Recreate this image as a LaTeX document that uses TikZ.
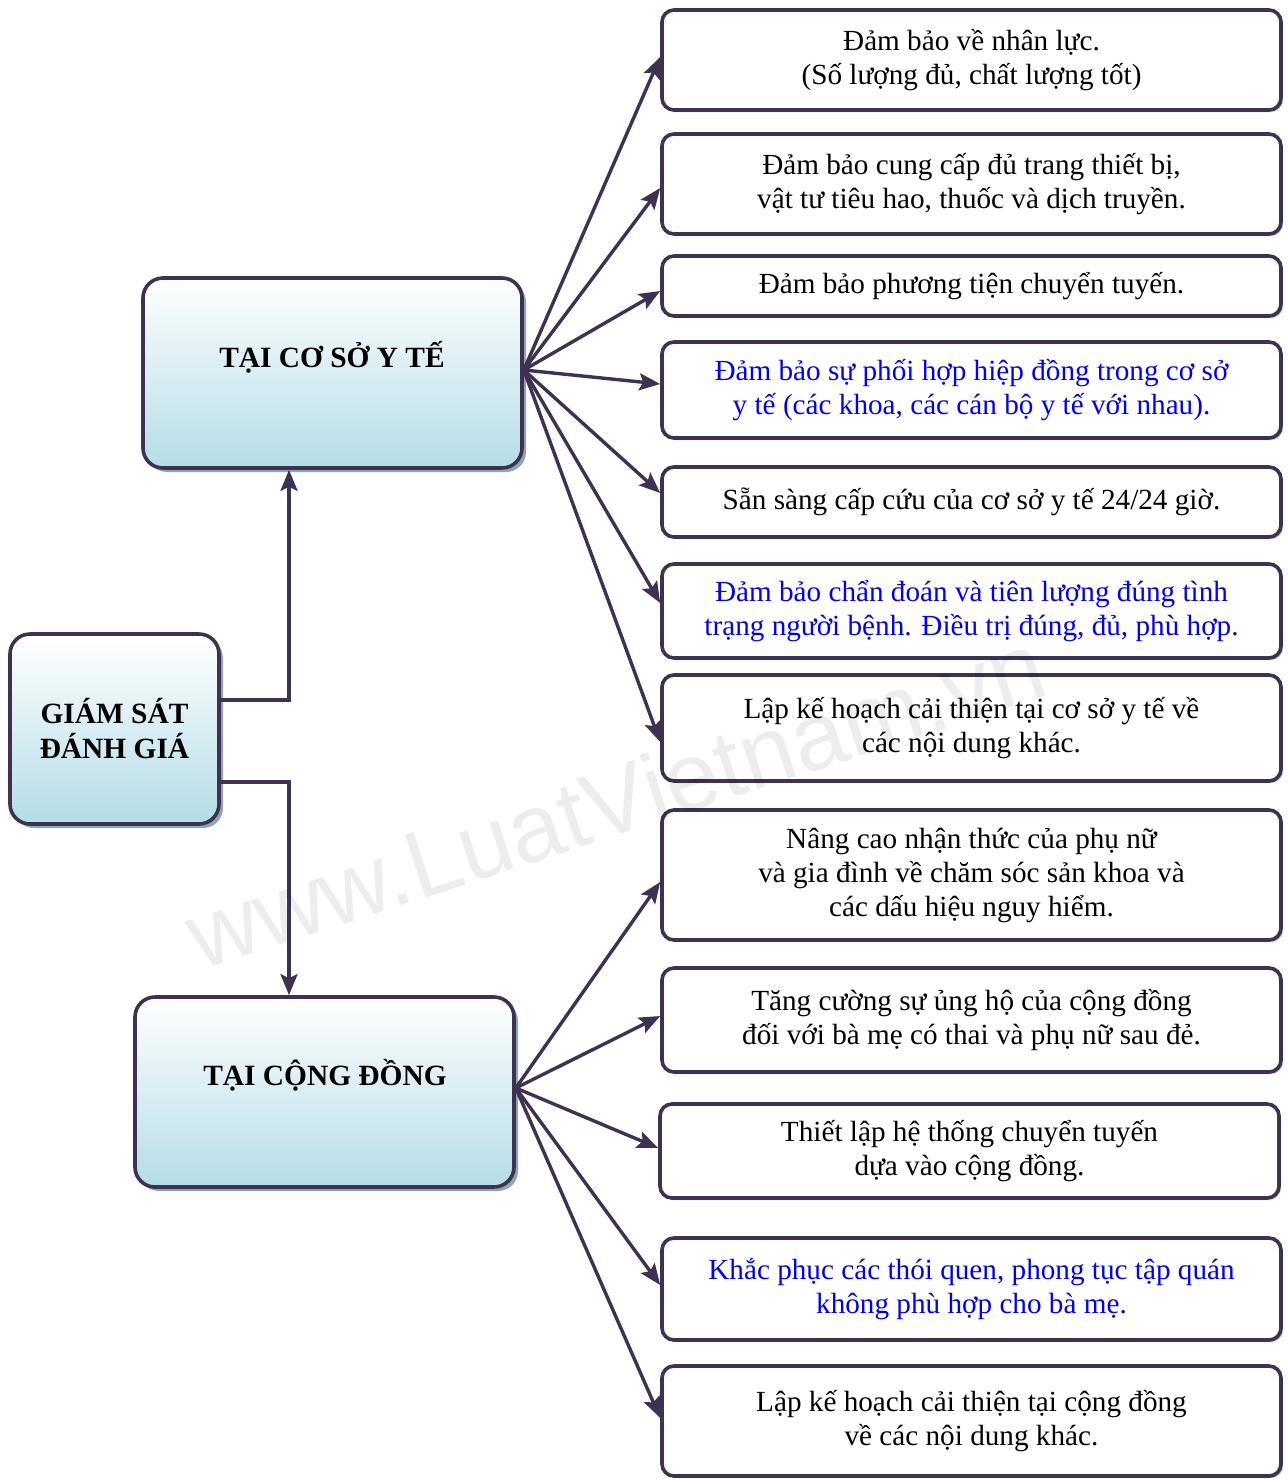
\documentclass[tikz,border=0pt]{standalone}
\usepackage{fontspec}
\setmainfont{Liberation Serif}
\newfontfamily\wmfont{Liberation Sans}
\usetikzlibrary{arrows.meta,calc,shadows}
\definecolor{ln}{HTML}{3F3151}
\definecolor{lb}{HTML}{B4DCE7}
\definecolor{sh}{HTML}{8FA6B2}
\definecolor{bl}{HTML}{0000FF}
\begin{document}
\begin{tikzpicture}[x=0.5pt,y=-0.5pt,
  rbox/.style={draw=ln, line width=1.8pt, rounded corners=6pt, fill=white, align=center, inner sep=0pt,
    font=\fontsize{14.6}{17}\selectfont, minimum width=309.5pt,
    drop shadow={shadow xshift=1pt, shadow yshift=-1pt, fill=black!25, opacity=1}},
  lbox/.style={draw=ln, line width=1.8pt, rounded corners=10pt, top color=white, bottom color=lb, inner sep=0pt,
    drop shadow={shadow xshift=2pt, shadow yshift=-2pt, fill=sh, opacity=1}},
  ttl/.style={font=\fontsize{14.7}{17.5}\selectfont\bfseries, align=center, inner sep=0pt},
  conn/.style={draw=ln, line width=1.7pt},
  arr/.style={conn, -{Stealth[length=10.5pt,width=8.5pt,inset=2pt]}}
]
\useasboundingbox (0,0) rectangle (1287,1479);
\fill[white] (0,0) rectangle (1287,1479);

% left boxes
\node[lbox, minimum width=104.5pt, minimum height=95pt] (gs) at (114.5,729) {};
\node[ttl] (gst) at (114.5,729) {GIÁM SÁT\\ĐÁNH GIÁ};
\node[lbox, minimum width=189.5pt, minimum height=95pt] (cs) at (332.5,373) {};
\node[ttl] (cst) at (332,357) {TẠI CƠ SỞ Y TẾ};
\node[lbox, minimum width=189.5pt, minimum height=95pt] (cd) at (324.5,1092) {};
\node[ttl] (cdt) at (325,1075) {TẠI CỘNG ĐỒNG};

% right boxes
\node[rbox, minimum height=50pt] (b1) at (971.5,60) {Đảm bảo về nhân lực.\\(Số lượng đủ, chất lượng tốt)};
\node[rbox, minimum height=50pt] (b2) at (971.5,184) {Đảm bảo cung cấp đủ trang thiết bị,\\vật tư tiêu hao, thuốc và dịch truyền.};
\node[rbox, minimum height=30pt] (b3) at (971.5,286) {Đảm bảo phương tiện chuyển tuyến.};
\node[rbox, minimum height=48pt, text=bl] (b4) at (971.5,390) {Đảm bảo sự phối hợp hiệp đồng trong cơ sở\\y tế (các khoa, các cán bộ y tế với nhau).};
\node[rbox, minimum height=35pt] (b5) at (971.5,502) {Sẵn sàng cấp cứu của cơ sở y tế 24/24 giờ.};
\node[rbox, minimum height=47pt, text=bl] (b6) at (971.5,611) {Đảm bảo chẩn đoán và tiên lượng đúng tình\\trạng người bệnh. Điều trị đúng, đủ, phù hợp.};
\node[rbox, minimum height=53pt] (b7) at (971.5,728) {\raisebox{5pt}{\parbox{300pt}{\centering Lập kế hoạch cải thiện tại cơ sở y tế về\\các nội dung khác.}}};
\node[rbox, minimum height=65pt] (b8) at (971.5,875) {Nâng cao nhận thức của phụ nữ\\và gia đình về chăm sóc sản khoa và\\các dấu hiệu nguy hiểm.};
\node[rbox, minimum height=52pt] (b9) at (971.5,1020) {Tăng cường sự ủng hộ của cộng đồng\\đối với bà mẹ có thai và phụ nữ sau đẻ.};
\node[rbox, minimum height=47pt] (b10) at (969.5,1151) {Thiết lập hệ thống chuyển tuyến\\dựa vào cộng đồng.};
\node[rbox, minimum height=51pt, text=bl] (b11) at (971.5,1289) {Khắc phục các thói quen, phong tục tập quán\\không phù hợp cho bà mẹ.};
\node[rbox, minimum height=55pt] (b12) at (971.5,1421) {\raisebox{3pt}{\parbox{300pt}{\centering Lập kế hoạch cải thiện tại cộng đồng\\về các nội dung khác.}}};

% elbow connectors
\draw[arr] ($(gs.east)+(0,-29)$) -| ($(cs.south)+(-43.5,0)$);
\draw[arr] ($(gs.east)+(0,53)$) -| ($(cd.north)+(-35.5,0)$);

% fan from cs
\coordinate (fc) at ($(cs.east)+(0,-3)$);
\draw[arr] (fc) -- ($(b1.west)+(0,-3)$);
\draw[arr] (fc) -- ($(b2.west)+(0,4)$);
\draw[arr] (fc) -- ($(b3.west)+(0,5)$);
\draw[arr] (fc) -- ($(b4.west)+(0,-6)$);
\draw[arr] (fc) -- ($(b5.west)+(0,-9)$);
\draw[arr] (fc) -- ($(b6.west)+(0,-8)$);
\draw[arr] (fc) -- ($(b7.west)+(0,14)$);

% fan from cd
\coordinate (fd) at ($(cd.east)+(0,-4)$);
\draw[arr] (fd) -- ($(b8.west)+(0,7)$);
\draw[arr] (fd) -- ($(b9.west)+(0,-4)$);
\draw[arr] (fd) -- ($(b10.west)+(0,-3)$);
\draw[arr] (fd) -- ($(b11.west)+(0,-4)$);
\draw[arr] (fd) -- ($(b12.west)+(0,-3)$);

% watermark
\node[rotate=18, text=black, opacity=0.07, font=\wmfont\fontsize{48}{48}\selectfont, inner sep=0pt] (wm) at (615,800) {www.LuatVietnam.vn};
\end{tikzpicture}
\end{document}
